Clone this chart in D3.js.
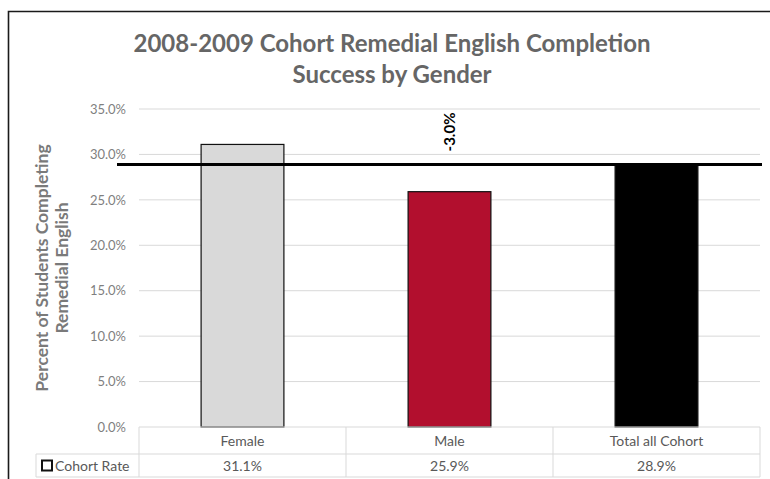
<!DOCTYPE html>
<html>
<head>
<meta charset="utf-8">
<script src="https://cdn.jsdelivr.net/npm/d3@7"></script>
<style>
  body { margin: 0; background: #fff; }
  svg { display: block; font-family: Lato, "Open Sans", sans-serif; }
</style>
</head>
<body>
<div id="chart"></div>
<script>
// chart data
const categories = ["Female", "Male", "Total all Cohort"];
const cohortRate = [31.1, 25.9, 28.9];
const barColors = ["#d9d9d9", "#b20f2e", "#000000"];
const averageRate = 28.9;
const gapLabel = "-3.0%";
const gapCategory = "Male";
const yTicks = [0, 5, 10, 15, 20, 25, 30, 35];
const titleLines = ["2008-2009 Cohort Remedial English Completion", "Success by Gender"];
const yTitleLines = ["Percent of Students Completing", "Remedial English"];
const seriesName = "Cohort Rate";

const width = 770, height = 479;
const margin = {top: 109, right: 10, bottom: 52, left: 139};
const plotRight = 760;

const svg = d3.select("#chart").append("svg")
    .attr("width", width)
    .attr("height", height);

// outer frame (cropped on the right and bottom)
svg.append("path")
    .attr("d", "M8.5," + height + " L8.5,11.5 L" + width + ",11.5")
    .attr("fill", "none")
    .attr("stroke", "#1a1a1a")
    .attr("stroke-width", 1.6);

const x = d3.scaleBand()
    .domain(categories)
    .range([margin.left, plotRight])
    .paddingInner(0.6)
    .paddingOuter(0.3);

const y = d3.scaleLinear()
    .domain([0, 35])
    .range([427, margin.top]);

// title
svg.append("g").selectAll("text")
    .data(titleLines)
    .enter().append("text")
    .attr("x", 392)
    .attr("y", (d, i) => 52 + i * 31)
    .attr("text-anchor", "middle")
    .attr("font-size", 24)
    .attr("font-weight", "bold")
    .attr("fill", "#666666")
    .text(d => d);

// gridlines + tick labels
const grid = svg.append("g");
grid.selectAll("line")
    .data(yTicks.filter(d => d > 0))
    .enter().append("line")
    .attr("x1", margin.left)
    .attr("x2", plotRight)
    .attr("y1", d => y(d))
    .attr("y2", d => y(d))
    .attr("stroke", "#d9d9d9")
    .attr("stroke-width", 1);

const yAxis = d3.axisLeft(y)
    .tickValues(yTicks)
    .tickFormat(d => d.toFixed(1) + "%")
    .tickSize(0)
    .tickPadding(0);

const yAxisG = svg.append("g")
    .attr("transform", "translate(126,0)")
    .call(yAxis);
yAxisG.select(".domain").remove();
yAxisG.selectAll("text")
    .attr("font-size", 13)
    .attr("font-family", "Lato, 'Open Sans', sans-serif")
    .attr("fill", "#7f7f7f");

// y axis title
svg.append("g")
    .attr("transform", "translate(48,268) rotate(-90)")
    .selectAll("text")
    .data(yTitleLines)
    .enter().append("text")
    .attr("x", 0)
    .attr("y", (d, i) => i * 20)
    .attr("text-anchor", "middle")
    .attr("font-size", 17.5)
    .attr("font-weight", "bold")
    .attr("fill", "#7a7a7a")
    .text(d => d);

// bars
svg.append("g").selectAll("rect")
    .data(categories)
    .enter().append("rect")
    .attr("x", d => x(d))
    .attr("y", (d, i) => y(cohortRate[i]))
    .attr("width", x.bandwidth())
    .attr("height", (d, i) => y(0) - y(cohortRate[i]))
    .attr("fill", (d, i) => barColors[i])
    .attr("stroke", "#111")
    .attr("stroke-width", 1.2);

// average line
svg.append("line")
    .attr("x1", 117)
    .attr("x2", 762)
    .attr("y1", y(averageRate))
    .attr("y2", y(averageRate))
    .attr("stroke", "#000")
    .attr("stroke-width", 3);

// gap label
svg.append("text")
    .attr("transform", "translate(" + (x(gapCategory) + x.bandwidth() / 2 + 5) + ",132) rotate(-90)")
    .attr("text-anchor", "middle")
    .attr("font-size", 15)
    .attr("font-weight", "bold")
    .attr("fill", "#000")
    .text(gapLabel);

// data table
const table = svg.append("g");
const rowTop = 427, rowMid = 454, rowBottom = 477, tableLeft = 36;
const step = x.step();
const colEdges = categories.map((d, i) => margin.left + i * step).concat([plotRight]);

table.append("path")
    .attr("d",
        "M" + margin.left + "," + rowTop + " H" + plotRight +
        " M" + tableLeft + "," + rowMid + " H" + plotRight +
        " M" + tableLeft + "," + rowBottom + " H" + plotRight +
        " M" + tableLeft + "," + rowMid + " V" + rowBottom)
    .attr("fill", "none")
    .attr("stroke", "#d9d9d9")
    .attr("stroke-width", 1);

table.selectAll(".col")
    .data(colEdges)
    .enter().append("line")
    .attr("class", "col")
    .attr("x1", d => d)
    .attr("x2", d => d)
    .attr("y1", rowTop)
    .attr("y2", rowBottom)
    .attr("stroke", "#d9d9d9")
    .attr("stroke-width", 1);

table.selectAll(".cat")
    .data(categories)
    .enter().append("text")
    .attr("class", "cat")
    .attr("x", d => x(d) + x.bandwidth() / 2)
    .attr("y", 446)
    .attr("text-anchor", "middle")
    .attr("font-size", 14)
    .attr("fill", "#595959")
    .text(d => d);

table.selectAll(".val")
    .data(cohortRate)
    .enter().append("text")
    .attr("class", "val")
    .attr("x", (d, i) => x(categories[i]) + x.bandwidth() / 2)
    .attr("y", 471)
    .attr("text-anchor", "middle")
    .attr("font-size", 14)
    .attr("fill", "#595959")
    .text(d => d.toFixed(1) + "%");

// legend key in table
table.append("rect")
    .attr("x", 42)
    .attr("y", 460.5)
    .attr("width", 10)
    .attr("height", 10)
    .attr("fill", "#fff")
    .attr("stroke", "#111")
    .attr("stroke-width", 2);

table.append("text")
    .attr("x", 55)
    .attr("y", 471)
    .attr("font-size", 14)
    .attr("fill", "#595959")
    .text(seriesName);
</script>
</body>
</html>
